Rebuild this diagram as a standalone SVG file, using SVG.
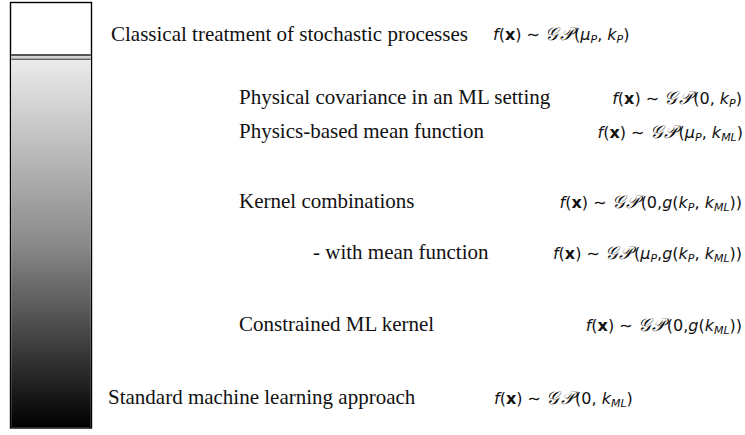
<svg xmlns="http://www.w3.org/2000/svg" width="745" height="435" viewBox="0 0 745 435">
<style>
.lbl{font-family:"Liberation Serif","Times New Roman",serif;font-size:21px;fill:#111}
.m{font-family:"DejaVu Sans","Liberation Sans",sans-serif;font-size:16px;fill:#111}
.r{text-anchor:end}
.it{font-style:italic}
.bd{font-weight:bold}
.gp{font-family:"Liberation Serif",serif;font-style:italic;font-size:18px;letter-spacing:1.5px}
.sub{font-size:11px;font-style:italic}
</style>
<defs>
<linearGradient id="g" x1="0" y1="0" x2="0" y2="1">
<stop offset="0" stop-color="#ebebeb"/>
<stop offset="0.5" stop-color="#8a8a8a"/>
<stop offset="1" stop-color="#000"/>
</linearGradient>
</defs>
<g id="bar">
<rect x="10.5" y="2.5" width="81" height="425.5" fill="#fff" stroke="#000" stroke-width="1.4"/>
<rect x="11.2" y="59.5" width="79.6" height="368" fill="url(#g)"/>
<rect x="11.2" y="54" width="79.6" height="2" fill="#555"/>
<rect x="11.2" y="56" width="79.6" height="2.5" fill="#d4d4d4"/>
<rect x="11.2" y="58.5" width="79.6" height="1.5" fill="#666"/>
</g>
<g id="connectors"/>
<g id="n1"><text class="lbl" x="111" y="41">Classical treatment of stochastic processes</text>
<text class="m" x="493" y="40"><tspan class="it">f</tspan>(<tspan class="bd">x</tspan>) ∼ <tspan class="gp">𝒢𝒫</tspan>(<tspan class="it">μ</tspan><tspan class="sub" dy="3">P</tspan><tspan dy="-3">, </tspan><tspan class="it">k</tspan><tspan class="sub" dy="3">P</tspan><tspan dy="-3">)</tspan></text></g>
<g id="n2"><text class="lbl" x="239" y="104">Physical covariance in an ML setting</text>
<text class="m r" x="742" y="104"><tspan class="it">f</tspan>(<tspan class="bd">x</tspan>) ∼ <tspan class="gp">𝒢𝒫</tspan>(0, <tspan class="it">k</tspan><tspan class="sub" dy="3">P</tspan><tspan dy="-3">)</tspan></text></g>
<g id="n3"><text class="lbl" x="239" y="138">Physics-based mean function</text>
<text class="m r" x="743" y="138"><tspan class="it">f</tspan>(<tspan class="bd">x</tspan>) ∼ <tspan class="gp">𝒢𝒫</tspan>(<tspan class="it">μ</tspan><tspan class="sub" dy="3">P</tspan><tspan dy="-3">, </tspan><tspan class="it">k</tspan><tspan class="sub" dy="3">ML</tspan><tspan dy="-3">)</tspan></text></g>
<g id="n4"><text class="lbl" x="239" y="208">Kernel combinations</text>
<text class="m r" x="742" y="208"><tspan class="it">f</tspan>(<tspan class="bd">x</tspan>) ∼ <tspan class="gp">𝒢𝒫</tspan>(0,<tspan class="it">g</tspan>(<tspan class="it">k</tspan><tspan class="sub" dy="3">P</tspan><tspan dy="-3">, </tspan><tspan class="it">k</tspan><tspan class="sub" dy="3">ML</tspan><tspan dy="-3">))</tspan></text></g>
<g id="n5"><text class="lbl" x="313" y="259">- with mean function</text>
<text class="m r" x="742" y="259"><tspan class="it">f</tspan>(<tspan class="bd">x</tspan>) ∼ <tspan class="gp">𝒢𝒫</tspan>(<tspan class="it">μ</tspan><tspan class="sub" dy="3">P</tspan><tspan dy="-3">,</tspan><tspan class="it">g</tspan>(<tspan class="it">k</tspan><tspan class="sub" dy="3">P</tspan><tspan dy="-3">, </tspan><tspan class="it">k</tspan><tspan class="sub" dy="3">ML</tspan><tspan dy="-3">))</tspan></text></g>
<g id="n6"><text class="lbl" x="239" y="331">Constrained ML kernel</text>
<text class="m r" x="742" y="331"><tspan class="it">f</tspan>(<tspan class="bd">x</tspan>) ∼ <tspan class="gp">𝒢𝒫</tspan>(0,<tspan class="it">g</tspan>(<tspan class="it">k</tspan><tspan class="sub" dy="3">ML</tspan><tspan dy="-3">))</tspan></text></g>
<g id="n7"><text class="lbl" x="108" y="404">Standard machine learning approach</text>
<text class="m" x="494" y="404"><tspan class="it">f</tspan>(<tspan class="bd">x</tspan>) ∼ <tspan class="gp">𝒢𝒫</tspan>(0, <tspan class="it">k</tspan><tspan class="sub" dy="3">ML</tspan><tspan dy="-3">)</tspan></text></g>
</svg>
